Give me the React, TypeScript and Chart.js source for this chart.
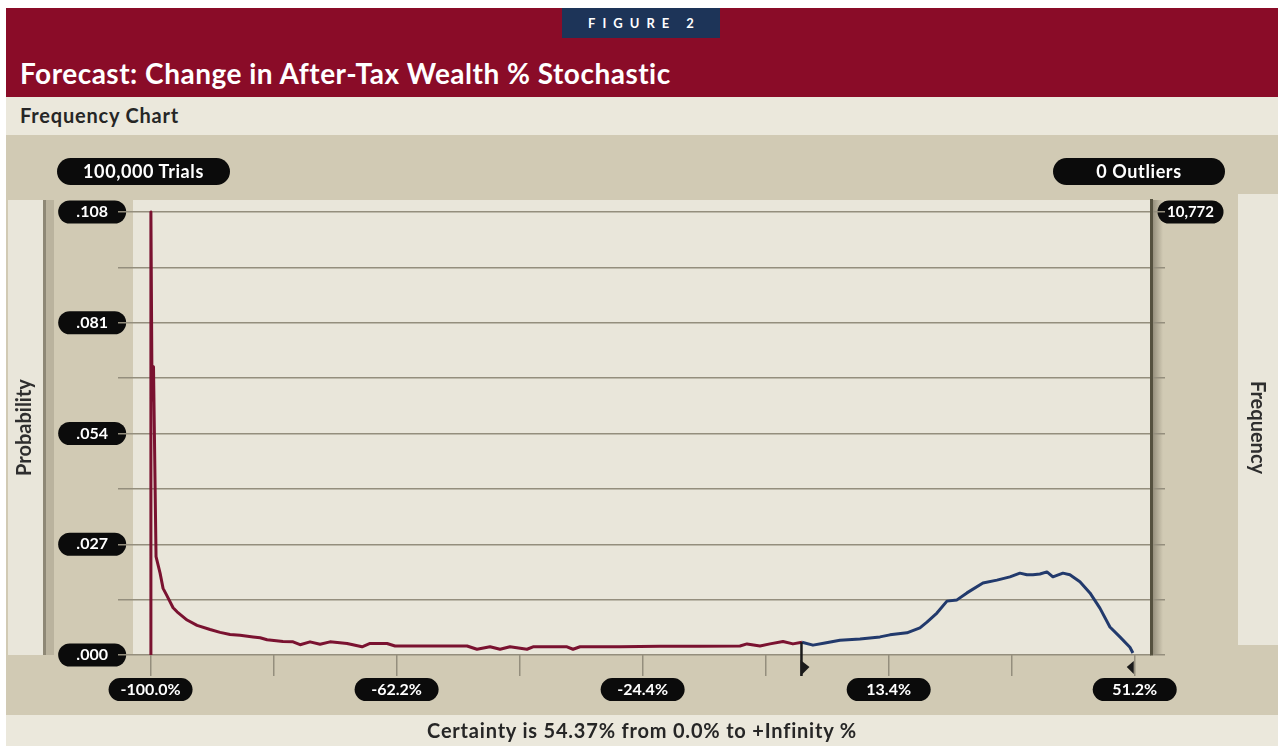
import React, { useEffect, useRef } from "react";
import { Chart, registerables } from "chart.js";

Chart.register(...registerables);

// ---------- data ----------
const TRIALS = 100000;
const FREQ_MAX = 10772;
const OUTLIERS = 0;
const PROB_MAX = FREQ_MAX / TRIALS;
const Y_STEPS = 8;

const X_TICKS = [-100, -81.1, -62.2, -43.3, -24.4, -5.5, 13.4, 32.3, 51.2];
const X_LABELED = [-100, -62.2, -24.4, 13.4, 51.2];

const CERT_FROM = 0.0;
const CERT_TO = 51.2;
const CERTAINTY = 54.37;

// below 0% (red)
const redX = [
  -100.0, -99.95, -99.77, -99.55, -99.16, -98.54, -98.08, -97.51, -96.54, -95.93,
  -94.39, -92.86, -90.86, -89.32, -87.79, -86.25, -84.25, -83.18, -82.1, -79.65,
  -78.11, -77.03, -75.5, -73.96, -72.43, -69.81, -67.51, -66.28, -63.67, -62.44,
  -57.06, -51.38, -49.85, -47.85, -46.31, -44.78, -42.17, -41.24, -36.02, -35.1,
  -34.02, -27.88, -21.74, -15.59, -9.45, -8.37, -6.37, -4.84, -2.84, -1.31, 0.08,
];
const redY = [
  0, 0.1077, 0.062, 0.0701, 0.0239, 0.0199, 0.0162, 0.0145, 0.0115, 0.0105,
  0.0085, 0.0072, 0.0062, 0.0055, 0.005, 0.0048, 0.0044, 0.0042, 0.0037, 0.0033,
  0.0032, 0.0025, 0.0032, 0.0026, 0.0032, 0.0028, 0.002, 0.0028, 0.0028, 0.0022,
  0.0022, 0.0022, 0.0014, 0.002, 0.0014, 0.002, 0.0014, 0.002, 0.002, 0.0014,
  0.002, 0.002, 0.0021, 0.0021, 0.0022, 0.0027, 0.0022, 0.0027, 0.0033, 0.0027, 0.0031,
];

// 0% and above (blue)
const blueX = [
  0.08, 1.77, 3.61, 5.91, 8.99, 12.06, 13.59, 16.2, 18.2, 19.28, 20.81, 22.35,
  23.89, 25.42, 27.88, 30.03, 32.03, 33.56, 34.64, 35.56, 36.64, 37.71, 38.63,
  40.17, 41.24, 42.78, 44.32, 45.85, 47.39, 48.92, 50.46, 50.92,
];
const blueY = [
  0.0031, 0.0024, 0.0029, 0.0036, 0.0039, 0.0044, 0.0049, 0.0054, 0.0066, 0.008,
  0.0102, 0.0131, 0.0134, 0.0151, 0.0175, 0.0182, 0.019, 0.0199, 0.0195, 0.0195,
  0.0197, 0.0202, 0.019, 0.0199, 0.0195, 0.0178, 0.0151, 0.0114, 0.0068, 0.0044,
  0.0019, 0.0005,
];

// ---------- style ----------
const FONT = "Lato, 'Open Sans', 'DejaVu Sans', sans-serif";
const RED_BAND = "#8a0c28";
const NAVY = "#1d3458";
const LIGHT = "#ebe8dc";
const TAN = "#d1cab4";
const PLOT = "#e9e6da";
const GRID = "#948e7d";
const RED_LINE = "#7a1230";
const BLUE_LINE = "#223a6c";

const X_MIN = -102.7;
const X_MAX = 53.7;
const Y_TOP_FRAC = 455 / 443;

const decor = {
  id: "decor",
  beforeDraw(chart: any) {
    const { ctx, chartArea: ca, scales } = chart;
    ctx.save();
    ctx.fillStyle = TAN;
    ctx.fillRect(6, 135, 1272, 580);
    const h = ca.bottom - ca.top;
    // left "Probability" panel
    ctx.fillStyle = PLOT;
    ctx.fillRect(8, ca.top, 35, h);
    ctx.fillStyle = "#8e8876";
    ctx.fillRect(43, ca.top, 3, h);
    ctx.fillStyle = "rgba(120,112,90,0.25)";
    ctx.fillRect(46, ca.top, 8, h);
    // right "Frequency" panel
    ctx.fillStyle = PLOT;
    ctx.fillRect(1238, ca.top - 6, 40, h - 4);
    // plot background
    ctx.fillStyle = PLOT;
    ctx.fillRect(ca.left, ca.top, ca.right - ca.left, h);
    const g = ctx.createLinearGradient(ca.right, 0, ca.right + 12, 0);
    g.addColorStop(0, "rgba(70,64,50,0.5)");
    g.addColorStop(1, "rgba(70,64,50,0)");
    ctx.fillStyle = g;
    ctx.fillRect(ca.right, ca.top, 12, h);
    // pills behind tick labels
    const pillW: Record<string, number> = { x: 84, y: 68, y2: 66 };
    for (const id of ["x", "y", "y2"]) {
      const s: any = scales[id];
      if (!s || !s.getLabelItems) continue;
      const items = s.getLabelItems();
      for (const it of items) {
        if (!it.label) continue;
        const tr = it.options.translation;
        const cx = tr[0];
        const cy = tr[1] + (it.textOffset || 0);
        const w = pillW[id];
        const ph = 23;
        ctx.fillStyle = "#0b0b0b";
        ctx.beginPath();
        ctx.roundRect(cx - w / 2, cy - ph / 2, w, ph, ph / 2);
        ctx.fill();
      }
    }
    ctx.restore();
  },
  afterDatasetsDraw(chart: any) {
    const { ctx, scales } = chart;
    const xs = scales.x;
    const ys = scales.y;
    const bottom = chart.chartArea.bottom;
    ctx.save();
    ctx.fillStyle = "#1a1a1a";
    ctx.strokeStyle = "#1a1a1a";
    // left certainty marker (0%)
    const x0 = xs.getPixelForValue(CERT_FROM);
    ctx.lineWidth = 2.5;
    ctx.beginPath();
    ctx.moveTo(x0, ys.getPixelForValue(blueY[0]));
    ctx.lineTo(x0, bottom + 21);
    ctx.stroke();
    ctx.beginPath();
    ctx.moveTo(x0 - 1, bottom + 5);
    ctx.lineTo(x0 + 8, bottom + 12);
    ctx.lineTo(x0 - 1, bottom + 21);
    ctx.closePath();
    ctx.fill();
    // right certainty marker
    const x1 = xs.getPixelForValue(CERT_TO) - 1;
    ctx.beginPath();
    ctx.moveTo(x1, bottom + 6);
    ctx.lineTo(x1 - 7, bottom + 12);
    ctx.lineTo(x1, bottom + 19);
    ctx.closePath();
    ctx.fill();
    ctx.restore();
  },
};

export default function App() {
  const ref = useRef<HTMLCanvasElement>(null);

  useEffect(() => {
    const canvas = ref.current;
    if (!canvas) return;
    const tickFont = { family: FONT, size: 16, weight: "bold" as const };
    const chart = new Chart(canvas, {
      type: "line",
      data: {
        datasets: [
          {
            label: "Below 0%",
            data: redX.map((x, i) => ({ x, y: redY[i] })),
            borderColor: RED_LINE,
            borderWidth: 3,
            pointRadius: 0,
            tension: 0,
            borderJoinStyle: "round",
            yAxisID: "y",
          },
          {
            label: "0% and above",
            data: blueX.map((x, i) => ({ x, y: blueY[i] })),
            borderColor: BLUE_LINE,
            borderWidth: 3,
            pointRadius: 0,
            tension: 0,
            borderJoinStyle: "round",
            yAxisID: "y",
          },
        ],
      },
      options: {
        responsive: false,
        animation: false,
        devicePixelRatio: 1,
        layout: { padding: { left: 8, right: 0, top: 200, bottom: 31 } },
        plugins: {
          legend: { display: false },
          tooltip: { enabled: false },
        },
        scales: {
          x: {
            type: "linear",
            position: "bottom",
            min: X_MIN,
            max: X_MAX,
            afterBuildTicks: (s: any) => {
              s.ticks = X_TICKS.map((v) => ({ value: v }));
            },
            afterFit: (s: any) => {
              s.height = 60;
            },
            grid: {
              drawOnChartArea: false,
              drawTicks: true,
              tickLength: 21,
              color: GRID,
              lineWidth: 1.5,
            },
            border: { display: false },
            ticks: {
              autoSkip: false,
              maxRotation: 0,
              padding: 4,
              color: "#ffffff",
              font: tickFont,
              callback: (v: any) =>
                X_LABELED.includes(Number(v)) ? `${Number(v).toFixed(1)}%` : "",
            },
          },
          y: {
            type: "linear",
            position: "left",
            min: 0,
            max: PROB_MAX * Y_TOP_FRAC,
            afterBuildTicks: (s: any) => {
              s.ticks = Array.from({ length: Y_STEPS + 1 }, (_, i) => ({
                value: (i * PROB_MAX) / Y_STEPS,
              }));
            },
            afterFit: (s: any) => {
              s.width = 125;
            },
            grid: {
              drawOnChartArea: true,
              drawTicks: true,
              tickLength: 15,
              color: GRID,
              lineWidth: 1.5,
            },
            border: { display: false },
            title: {
              display: true,
              text: "Probability",
              color: "#2e2e2e",
              font: { family: FONT, size: 20, weight: "bold" },
              padding: { top: 5, bottom: 0 },
            },
            ticks: {
              autoSkip: false,
              crossAlign: "center",
              padding: 10,
              color: "#ffffff",
              font: tickFont,
              callback: (v: any, i: number) =>
                i % 2 === 0 ? Number(v).toFixed(3).replace(/^0/, "") : "",
            },
          },
          y2: {
            type: "linear",
            position: "right",
            min: 0,
            max: FREQ_MAX * Y_TOP_FRAC,
            afterBuildTicks: (s: any) => {
              s.ticks = Array.from({ length: Y_STEPS + 1 }, (_, i) => ({
                value: (i * FREQ_MAX) / Y_STEPS,
              }));
            },
            afterFit: (s: any) => {
              s.width = 127;
            },
            grid: {
              drawOnChartArea: false,
              drawTicks: true,
              tickLength: 14,
              color: GRID,
              lineWidth: 1.5,
            },
            border: { display: true, color: "#55513f", width: 3 },
            title: {
              display: true,
              text: "Frequency",
              color: "#2e2e2e",
              font: { family: FONT, size: 20, weight: "bold" },
              padding: { top: 9, bottom: 0 },
            },
            ticks: {
              autoSkip: false,
              crossAlign: "center",
              padding: 2,
              color: "#ffffff",
              font: { family: FONT, size: 15, weight: "bold" as const },
              callback: (v: any, i: number) =>
                i === Y_STEPS ? Math.round(Number(v)).toLocaleString("en-US") : "",
            },
          },
        },
      },
      plugins: [decor],
    });
    return () => chart.destroy();
  }, []);

  const pill: React.CSSProperties = {
    position: "fixed",
    top: 158,
    height: 27,
    borderRadius: 14,
    background: "#0b0b0b",
    color: "#ffffff",
    font: `bold 18px ${FONT}`,
    letterSpacing: "0.6px",
    lineHeight: "27px",
    textAlign: "center",
  };

  return (
    <div>
      <div style={{ position: "fixed", left: 6, top: 8, width: 1272, height: 89, background: RED_BAND }} />
      <div
        style={{
          position: "fixed",
          left: 562,
          top: 8,
          width: 158,
          height: 30,
          background: NAVY,
          color: "#ffffff",
          font: `bold 13px ${FONT}`,
          letterSpacing: "7px",
          lineHeight: "30px",
          textAlign: "center",
          textIndent: "7px",
        }}
      >
        FIGURE 2
      </div>
      <div
        style={{
          position: "fixed",
          left: 20,
          top: 57,
          height: 32,
          color: "#ffffff",
          font: `bold 28px ${FONT}`,
          letterSpacing: "0.5px",
          lineHeight: "32px",
          whiteSpace: "nowrap",
        }}
      >
        Forecast: Change in After-Tax Wealth % Stochastic
      </div>
      <div
        style={{
          position: "fixed",
          left: 6,
          top: 97,
          width: 1272,
          height: 38,
          background: LIGHT,
        }}
      />
      <div
        style={{
          position: "fixed",
          left: 20,
          top: 97,
          height: 38,
          color: "#262626",
          font: `bold 20px ${FONT}`,
          letterSpacing: "0.8px",
          lineHeight: "36px",
          whiteSpace: "nowrap",
        }}
      >
        Frequency Chart
      </div>
      <div
        style={{
          position: "fixed",
          left: 6,
          top: 715,
          width: 1272,
          height: 31,
          background: LIGHT,
        }}
      />
      <canvas
        ref={ref}
        width={1278}
        height={746}
        style={{ position: "fixed", left: 0, top: 0, width: 1278, height: 746 }}
      />
      <div style={{ ...pill, left: 57, width: 173 }}>{TRIALS.toLocaleString("en-US")} Trials</div>
      <div style={{ ...pill, left: 1053, width: 172 }}>{OUTLIERS} Outliers</div>
      <div
        style={{
          position: "fixed",
          left: 6,
          top: 715,
          width: 1272,
          height: 31,
          color: "#262626",
          font: `bold 20px ${FONT}`,
          letterSpacing: "0.8px",
          lineHeight: "31px",
          textAlign: "center",
          whiteSpace: "nowrap",
        }}
      >
        Certainty is {CERTAINTY.toFixed(2)}% from {CERT_FROM.toFixed(1)}% to +Infinity %
      </div>
    </div>
  );
}
